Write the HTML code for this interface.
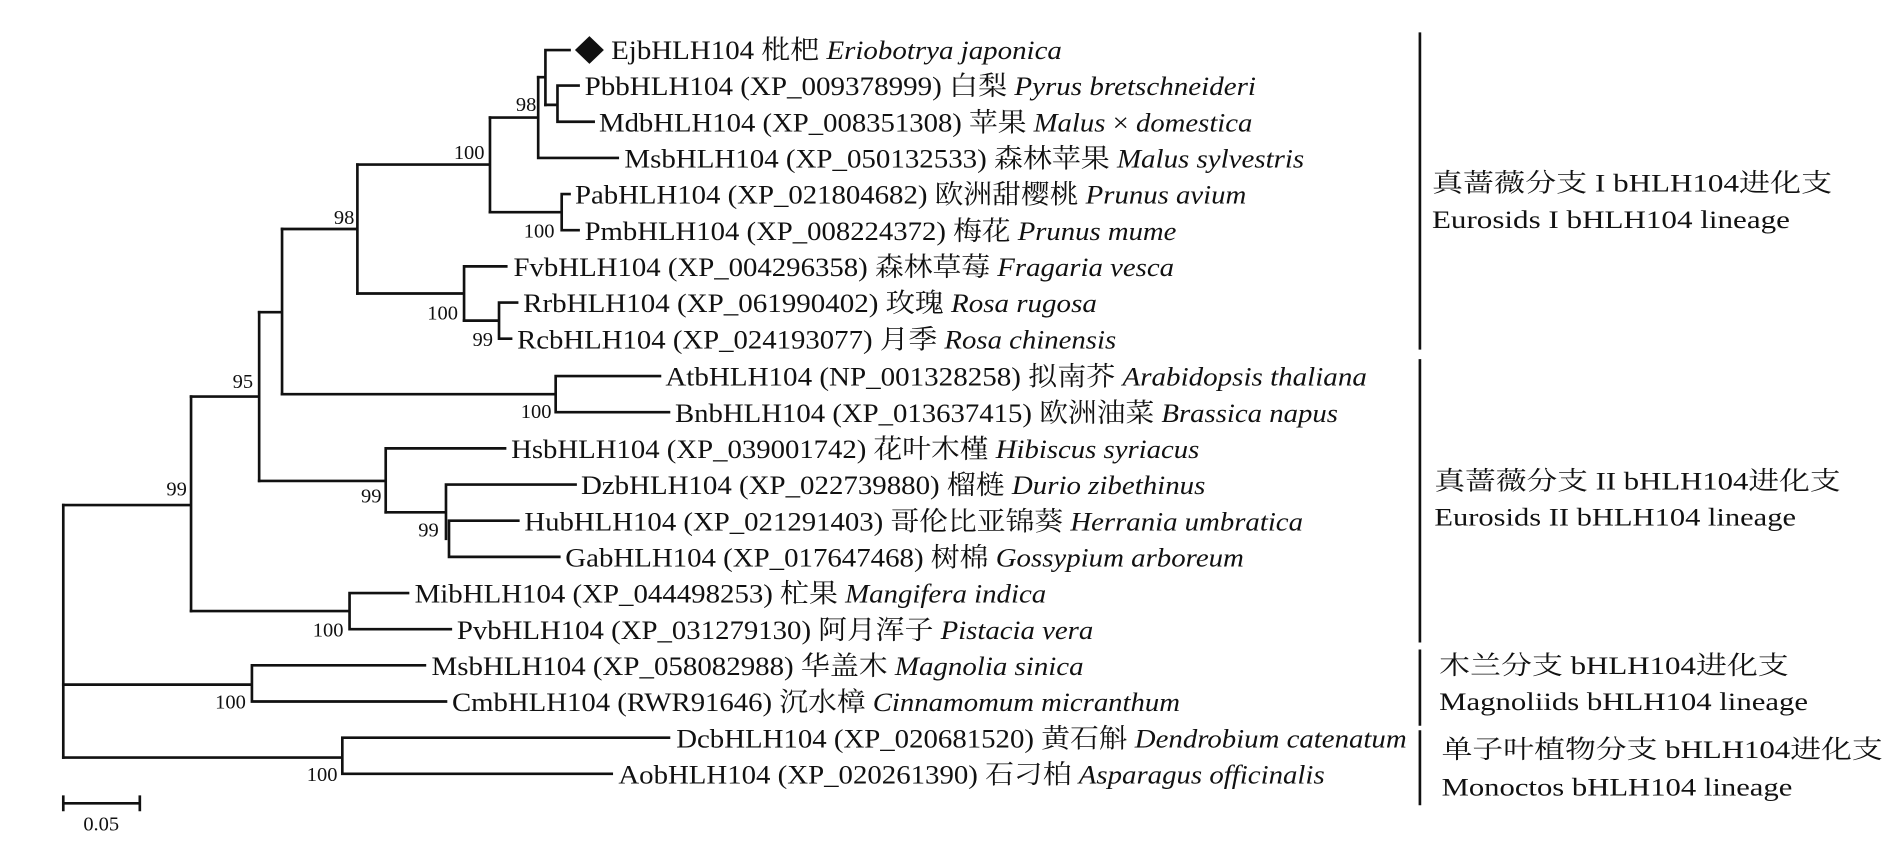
<!DOCTYPE html>
<html><head><meta charset="utf-8"><style>
html,body{margin:0;padding:0;background:#fff;}
svg{display:block;}
text{font-family:"Liberation Serif","Noto Serif CJK SC","Noto Sans CJK SC",serif;fill:#111;}
.lf{font-size:22px;}
.bs{font-size:17px;}
.cl{font-size:21px;}
</style></head><body>
<svg width="1890" height="850" viewBox="0 0 1568 705.2" preserveAspectRatio="none" xmlns="http://www.w3.org/2000/svg">
<g stroke="#111" stroke-width="2.2" fill="none" stroke-linecap="square">
<path d="M52.5 419 V628.5"/>
<path d="M52.5 419 H158.5 M158.5 329 V507"/>
<path d="M158.5 329 H215 M215 259 V399"/>
<path d="M215 259 H234 M234 190 V327"/>
<path d="M234 190 H296.5 M296.5 136.5 V243.5"/>
<path d="M296.5 136.5 H406.5 M406.5 97.5 V176"/>
<path d="M406.5 97.5 H446.5 M446.5 64 V131 M446.5 131 H512.5"/>
<path d="M446.5 64 H452.5 M452.5 41.5 V87 M452.5 41.5 H472.5"/>
<path d="M452.5 87 H462.5 M462.5 71 V101 M462.5 71 H480 M462.5 101 H492.5"/>
<path d="M406.5 176 H466 M466 161 V191 M466 161 H472.5 M466 191 H480"/>
<path d="M296.5 243.5 H385 M385 221 V266 M385 221 H420"/>
<path d="M385 266 H414 M414 251 V281 M414 251 H429 M414 281 H424"/>
<path d="M234 327 H461 M461 312 V342 M461 312 H547.5 M461 342 H555"/>
<path d="M215 399 H320 M320 372 V425 M320 372 H419"/>
<path d="M320 425 H370 M370 402 V447 M370 402 H477.5 M372.5 432 V462 M372.5 432 H430 M372.5 462 H464"/>
<path d="M158.5 507 H290 M290 492 V522 M290 492 H338.5 M290 522 H374"/>
<path d="M52.5 568 H209 M209 552 V582 M209 552 H352.5 M209 582 H370"/>
<path d="M52.5 628.5 H284 M284 612 V642 M284 612 H555 M284 642 H507.5"/>
<path d="M52.5 666.5 H116 M52.5 661 V672 M116 661 V672"/>
<path d="M1178 28 V289 M1178 299 V532 M1178 540 V601 M1178 607 V667"/>
</g>
<polygon points="489,30 501,41.5 489,53 477,41.5" fill="#111"/>
<g class="bs" text-anchor="end">
<text x="445" y="92">98</text>
<text x="402" y="132">100</text>
<text x="460" y="197">100</text>
<text x="294" y="186">98</text>
<text x="380" y="265">100</text>
<text x="409" y="287">99</text>
<text x="457.5" y="347">100</text>
<text x="210" y="322">95</text>
<text x="316.5" y="417">99</text>
<text x="364" y="445">99</text>
<text x="155" y="411">99</text>
<text x="285" y="528">100</text>
<text x="204" y="588">100</text>
<text x="280" y="648">100</text>
</g>
<text class="bs" x="84" y="689" text-anchor="middle">0.05</text>
<g class="lf">
<text x="507" y="49" textLength="374" lengthAdjust="spacingAndGlyphs">EjbHLH104 枇杷 <tspan font-style="italic">Eriobotrya japonica</tspan></text>
<text x="485" y="79" textLength="557" lengthAdjust="spacingAndGlyphs">PbbHLH104 (XP_009378999) 白梨 <tspan font-style="italic">Pyrus bretschneideri</tspan></text>
<text x="497" y="109" textLength="542" lengthAdjust="spacingAndGlyphs">MdbHLH104 (XP_008351308) 苹果 <tspan font-style="italic">Malus</tspan> × <tspan font-style="italic">domestica</tspan></text>
<text x="518" y="139" textLength="564" lengthAdjust="spacingAndGlyphs">MsbHLH104 (XP_050132533) 森林苹果 <tspan font-style="italic">Malus sylvestris</tspan></text>
<text x="477" y="169" textLength="557" lengthAdjust="spacingAndGlyphs">PabHLH104 (XP_021804682) 欧洲甜樱桃 <tspan font-style="italic">Prunus avium</tspan></text>
<text x="485" y="199" textLength="491" lengthAdjust="spacingAndGlyphs">PmbHLH104 (XP_008224372) 梅花 <tspan font-style="italic">Prunus mume</tspan></text>
<text x="426" y="229" textLength="548" lengthAdjust="spacingAndGlyphs">FvbHLH104 (XP_004296358) 森林草莓 <tspan font-style="italic">Fragaria vesca</tspan></text>
<text x="434" y="259" textLength="476" lengthAdjust="spacingAndGlyphs">RrbHLH104 (XP_061990402) 玫瑰 <tspan font-style="italic">Rosa rugosa</tspan></text>
<text x="429" y="289" textLength="497" lengthAdjust="spacingAndGlyphs">RcbHLH104 (XP_024193077) 月季 <tspan font-style="italic">Rosa chinensis</tspan></text>
<text x="552" y="320" textLength="582" lengthAdjust="spacingAndGlyphs">AtbHLH104 (NP_001328258) 拟南芥 <tspan font-style="italic">Arabidopsis thaliana</tspan></text>
<text x="560" y="350" textLength="550" lengthAdjust="spacingAndGlyphs">BnbHLH104 (XP_013637415) 欧洲油菜 <tspan font-style="italic">Brassica napus</tspan></text>
<text x="424" y="380" textLength="571" lengthAdjust="spacingAndGlyphs">HsbHLH104 (XP_039001742) 花叶木槿 <tspan font-style="italic">Hibiscus syriacus</tspan></text>
<text x="482" y="410" textLength="518" lengthAdjust="spacingAndGlyphs">DzbHLH104 (XP_022739880) 榴梿 <tspan font-style="italic">Durio zibethinus</tspan></text>
<text x="435" y="440" textLength="646" lengthAdjust="spacingAndGlyphs">HubHLH104 (XP_021291403) 哥伦比亚锦葵 <tspan font-style="italic">Herrania umbratica</tspan></text>
<text x="469" y="470" textLength="563" lengthAdjust="spacingAndGlyphs">GabHLH104 (XP_017647468) 树棉 <tspan font-style="italic">Gossypium arboreum</tspan></text>
<text x="344" y="500" textLength="524" lengthAdjust="spacingAndGlyphs">MibHLH104 (XP_044498253) 杧果 <tspan font-style="italic">Mangifera indica</tspan></text>
<text x="379" y="530" textLength="528" lengthAdjust="spacingAndGlyphs">PvbHLH104 (XP_031279130) 阿月浑子 <tspan font-style="italic">Pistacia vera</tspan></text>
<text x="358" y="560" textLength="541" lengthAdjust="spacingAndGlyphs">MsbHLH104 (XP_058082988) 华盖木 <tspan font-style="italic">Magnolia sinica</tspan></text>
<text x="375" y="590" textLength="604" lengthAdjust="spacingAndGlyphs">CmbHLH104 (RWR91646) 沉水樟 <tspan font-style="italic">Cinnamomum micranthum</tspan></text>
<text x="561" y="620" textLength="606" lengthAdjust="spacingAndGlyphs">DcbHLH104 (XP_020681520) 黄石斛 <tspan font-style="italic">Dendrobium catenatum</tspan></text>
<text x="513" y="650" textLength="586" lengthAdjust="spacingAndGlyphs">AobHLH104 (XP_020261390) 石刁柏 <tspan font-style="italic">Asparagus officinalis</tspan></text>
</g>
<g class="cl">
<text x="1188" y="159" textLength="332" lengthAdjust="spacingAndGlyphs">真蔷薇分支 I bHLH104进化支</text>
<text x="1188" y="189" textLength="297" lengthAdjust="spacingAndGlyphs">Eurosids I bHLH104 lineage</text>
<text x="1190" y="406" textLength="337" lengthAdjust="spacingAndGlyphs">真蔷薇分支 II bHLH104进化支</text>
<text x="1190" y="436" textLength="300" lengthAdjust="spacingAndGlyphs">Eurosids II bHLH104 lineage</text>
<text x="1194" y="559" textLength="290" lengthAdjust="spacingAndGlyphs">木兰分支 bHLH104进化支</text>
<text x="1194" y="589" textLength="306" lengthAdjust="spacingAndGlyphs">Magnoliids bHLH104 lineage</text>
<text x="1196" y="629" textLength="366" lengthAdjust="spacingAndGlyphs">单子叶植物分支 bHLH104进化支</text>
<text x="1196" y="660" textLength="291" lengthAdjust="spacingAndGlyphs">Monoctos bHLH104 lineage</text>
</g>
</svg>
</body></html>
